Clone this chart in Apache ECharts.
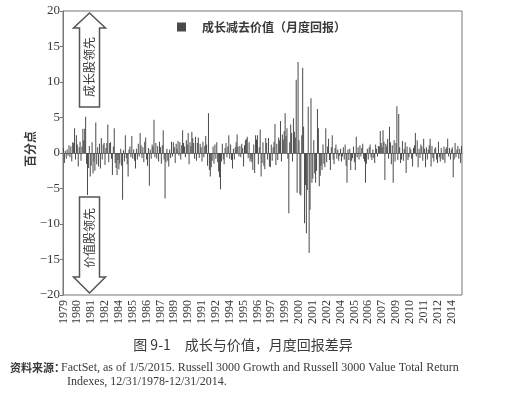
<!DOCTYPE html>
<html><head><meta charset="utf-8">
<script src="https://cdn.jsdelivr.net/npm/echarts@6/dist/echarts.min.js"></script>
<style>html,body{margin:0;padding:0;background:#fff}#c{width:517px;height:417px}</style>
</head><body><div id="c"></div>
<script>
// Growth minus value, monthly return difference (percentage points)
const startYear = 1979;
const months = ['01','02','03','04','05','06','07','08','09','10','11','12'];
const y1979 = [0.7, -1.4, 0.3, -0.8, 0.5, -0.4, 1.1, -0.6, 0.9, -1.2, 1.5, 1.4];
const y1980 = [3.5, -0.9, 2.5, 1.2, -1.9, 0.8, 1.6, -1.1, 0.9, 3.4, 1.8, 3.4];
const y1981 = [5.1, -1.5, -5.9, -2.1, 1.0, -3.3, -1.8, 1.5, -2.9, -1.2, -2.5, 4.3];
const y1982 = [-1.6, 0.8, -1.9, 1.3, -2.2, 2.1, -0.9, 1.2, 1.4, -1.7, 0.7, 1.4];
const y1983 = [4.0, -1.3, 1.4, 1.5, -0.8, -3.1, 0.9, 3.5, -1.4, -2.1, -3.1, -1.0];
const y1984 = [-2.3, -1.5, 0.6, -1.8, -6.6, 0.4, -1.2, 2.5, -0.7, -1.6, -3.3, 0.5];
const y1985 = [0.9, -0.6, 2.4, -0.8, 0.5, -1.1, -2.2, 0.6, -0.9, 1.3, -0.5, 2.8];
const y1986 = [1.1, -0.7, 0.8, -1.3, 1.6, 2.2, -0.9, -1.8, 0.7, -4.6, 0.5, -0.8];
const y1987 = [1.2, 0.9, 4.7, -0.6, 1.4, -0.8, 1.0, -1.2, 1.6, 0.8, -1.5, 1.1];
const y1988 = [3.2, -0.9, -6.4, -1.3, 0.6, -1.1, -1.9, 0.5, -0.7, 1.6, -0.5, 1.5];
const y1989 = [0.8, -1.4, 1.3, 0.6, 1.7, -0.4, 1.5, -0.9, 1.1, 3.2, 1.4, 0.9];
const y1990 = [-0.6, 1.8, 1.2, 2.8, -1.6, 1.5, 1.0, 3.0, 2.1, 1.4, -0.8, 2.3];
const y1991 = [-1.1, 1.4, 2.2, -0.7, 1.3, 0.8, -1.2, 1.6, -0.6, 1.0, 2.4, 1.2];
const y1992 = [-1.8, 5.6, -2.4, -3.3, -2.0, -1.1, 0.9, -1.5, 1.2, -0.8, 1.5, -1.3];
const y1993 = [-2.6, -3.4, -5.1, -1.2, 1.3, -0.9, -1.6, 0.7, 1.4, -0.6, 0.9, 2.5];
const y1994 = [-0.8, 1.2, -1.0, -2.2, 0.6, -0.9, 0.8, 1.5, 2.6, 0.9, -0.5, 1.0];
const y1995 = [-0.6, 1.3, 0.7, -1.9, 1.1, 1.8, 2.0, 2.3, -0.7, 1.5, -1.2, -0.8];
const y1996 = [-1.3, -2.4, 1.2, -2.8, 2.5, 1.9, 2.5, -1.6, 0.8, 3.3, -3.3, -1.4];
const y1997 = [1.5, -1.8, -2.3, 2.1, 1.4, -0.9, 2.1, -1.9, -2.0, 1.2, -1.1, 0.8];
const y1998 = [1.6, 4.1, -1.7, 1.3, -1.0, 2.2, 1.8, 4.5, -1.2, 2.6, 1.9, 3.1];
const y1999 = [5.6, 2.4, 3.5, -0.8, -8.5, 1.5, 4.0, 2.8, -1.2, 4.9, 3.0, 2.2];
const y2000 = [10.3, -5.6, 12.8, 1.8, -5.8, -6.0, 2.5, 12.0, 3.7, -9.9, -4.5, -11.3];
const y2001 = [-5.2, 6.5, -14.1, -8.0, 7.7, -4.2, -3.6, 1.8, -2.9, -4.2, -2.5, 6.2];
const y2002 = [3.5, -4.7, -3.2, -1.8, -2.4, 1.2, -1.5, -2.0, 3.5, -1.3, 0.9, 2.0];
const y2003 = [-1.0, -2.4, 0.8, 2.5, -0.9, -1.6, 0.7, 1.2, -0.8, 0.5, -1.1, -0.4];
const y2004 = [0.6, -1.2, -0.5, 0.8, -0.9, 1.2, -1.8, -4.2, 0.5, -1.0, 0.6, -2.4];
const y2005 = [-1.1, -0.7, 0.9, -1.3, -2.4, 2.3, -0.6, 0.8, -0.9, 1.1, -0.5, 0.7];
const y2006 = [1.3, -0.8, -1.2, -4.2, -1.5, 0.6, -0.9, 0.8, 1.2, -0.6, -1.0, 0.5];
const y2007 = [-0.7, -1.4, 1.2, 0.6, -0.5, 1.0, 0.9, 3.1, 1.4, 0.8, 3.2, 1.6];
const y2008 = [-3.8, 1.3, 0.9, 2.0, -0.8, 3.7, 1.5, -1.6, 1.1, -4.2, 1.8, -1.2];
const y2009 = [1.4, 6.6, -1.0, 5.5, 0.8, -1.4, -0.9, 1.7, -1.1, 0.6, 1.5, -2.8];
const y2010 = [0.9, -1.0, -0.6, 0.8, 0.5, -0.8, -1.9, 0.7, 1.1, 2.8, -0.5, 1.8];
const y2011 = [-2.0, 0.6, -0.7, 1.2, 0.9, -1.1, 2.0, 0.6, -2.0, 0.8, -0.9, 0.5];
const y2012 = [1.1, 2.0, -1.9, 1.0, -0.7, -1.2, 0.6, 0.8, -0.9, -1.4, 1.6, -0.6];
const y2013 = [-1.2, 0.7, -0.8, -1.0, 0.9, -1.4, 0.6, 0.8, 2.0, -0.5, 0.7, -0.9];
const y2014 = [0.5, 0.8, -3.4, -0.9, 1.4, -0.6, 0.5, 1.0, -0.8, 0.6, -1.4, 1.0];

const yearRows = [y1979,y1980,y1981,y1982,y1983,y1984,y1985,y1986,y1987,y1988,y1989,y1990,
  y1991,y1992,y1993,y1994,y1995,y1996,y1997,y1998,y1999,y2000,y2001,y2002,y2003,y2004,
  y2005,y2006,y2007,y2008,y2009,y2010,y2011,y2012,y2013,y2014];

const categories = [];
const values = [];
yearRows.forEach((row, i) => {
  row.forEach((v, m) => { categories.push((startYear + i) + '-' + months[m]); values.push(v); });
});

const seriesName = '成长减去价值（月度回报）';
const yAxisName = '百分点';
const upText = '成长股领先';
const downText = '价值股领先';
const captionText = '图 9-1　成长与价值，月度回报差异';
const sourceLabel = '资料来源：';
const sourceLine1 = 'FactSet, as of 1/5/2015. Russell 3000 Growth and Russell 3000 Value Total Return';
const sourceLine2 = 'Indexes, 12/31/1978-12/31/2014.';

const cjk = 'Noto Sans CJK SC';
const serif = 'Liberation Serif';
const ink = '#3a3a3a';

const chart = echarts.init(document.getElementById('c'), null, {renderer: 'canvas'});
chart.setOption({
  animation: false,
  backgroundColor: '#fff',
  legend: {
    data: [seriesName], left: 172, top: 16, icon: 'rect', itemWidth: 9, itemHeight: 9,
    textStyle: {fontFamily: cjk, fontSize: 12, fontWeight: 'bold', color: ink, padding: [0,0,0,11]}
  },
  grid: {left: 63, top: 11, right: 55, bottom: 122, show: true, borderColor: '#777', borderWidth: 1},
  xAxis: {
    type: 'category', data: categories, boundaryGap: true,
    axisLine: {lineStyle: {color: '#777'}}, axisTick: {show: false},
    axisLabel: {interval: 14, rotate: 90, margin: 5, fontFamily: serif, fontSize: 12, color: ink,
      formatter: v => v.slice(0, 4)}
  },
  yAxis: {
    type: 'value', min: -20, max: 20, interval: 5,
    splitLine: {show: false},
    axisLine: {show: true, lineStyle: {color: '#777'}},
    axisTick: {show: true, length: 3, lineStyle: {color: '#777'}},
    axisLabel: {margin: 3, fontFamily: serif, fontSize: 13, color: ink,
      formatter: v => String(v).replace('-', '\u2212')}
  },
  series: [{
    name: seriesName, type: 'bar', data: values, barWidth: 1,
    itemStyle: {color: '#4a4a4a'}
  }],
  graphic: [
    {type: 'polygon', shape: {points: [[89.5,13],[105.5,28],[99.5,28],[99.5,107],[79.5,107],[79.5,28],[73.5,28]]},
      style: {fill: '#fff', stroke: '#555', lineWidth: 1.5}},
    {type: 'text', x: 89.5, y: 67, rotation: Math.PI/2,
      style: {text: upText, fontFamily: cjk, fontSize: 12, fill: ink, textAlign: 'center', textVerticalAlign: 'middle'}},
    {type: 'polygon', shape: {points: [[79.5,197],[99.5,197],[99.5,277],[105.5,277],[89.5,293],[73.5,277],[79.5,277]]},
      style: {fill: '#fff', stroke: '#555', lineWidth: 1.5}},
    {type: 'text', x: 89.5, y: 238, rotation: Math.PI/2,
      style: {text: downText, fontFamily: cjk, fontSize: 12, fill: ink, textAlign: 'center', textVerticalAlign: 'middle'}},
    {type: 'text', x: 30, y: 149, rotation: Math.PI/2,
      style: {text: yAxisName, fontFamily: cjk, fontSize: 12, fontWeight: 'bold', fill: ink, textAlign: 'center', textVerticalAlign: 'middle'}},
    {type: 'text', x: 243, y: 345,
      style: {text: captionText, fontFamily: cjk, fontSize: 14, fill: ink, textAlign: 'center', textVerticalAlign: 'middle'}},
    {type: 'text', x: 10, y: 368,
      style: {text: sourceLabel, fontFamily: cjk, fontSize: 11, fontWeight: 'bold', fill: ink, textAlign: 'left', textVerticalAlign: 'middle'}},
    {type: 'text', x: 61, y: 368,
      style: {text: sourceLine1, fontFamily: serif, fontSize: 12, fill: ink, textAlign: 'left', textVerticalAlign: 'middle'}},
    {type: 'text', x: 67, y: 382,
      style: {text: sourceLine2, fontFamily: serif, fontSize: 12, fill: ink, textAlign: 'left', textVerticalAlign: 'middle'}}
  ]
});
</script></body></html>
